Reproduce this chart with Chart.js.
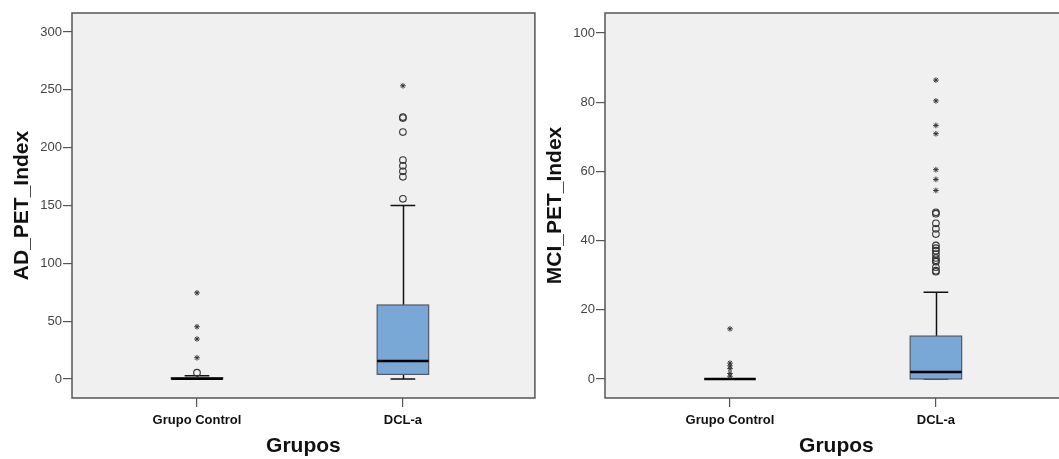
<!DOCTYPE html>
<html>
<head>
<meta charset="utf-8">
<script src="https://cdn.jsdelivr.net/npm/chart.js@4.4.1/dist/chart.umd.min.js"></script>
<style>
    html, body { margin: 0; padding: 0; background: #fff; overflow: hidden; width: 1059px; height: 459px; position: relative; }
    .panel { position: absolute; top: 0; width: 540px; height: 459px; }
</style>
</head>
<body>
<div class="panel" style="left:0"><canvas id="ad" width="540" height="459"></canvas></div>
<div class="panel" style="left:533px"><canvas id="mci" width="540" height="459"></canvas></div>
<script>
// Groups on the x axis (positions 1 and 2)
var groups = ["Grupo Control", "DCL-a"];

// AD_PET_Index summary per group
var adLow = [0, 0];
var adQ1 = [0, 4];
var adMedian = [0.3, 15.6];
var adQ3 = [1.2, 64];
var adHigh = [2.8, 150];
var adCircles = [[5.5], [155.8, 174.8, 179.5, 184.3, 189.3, 213.5, 225.6, 226.4]];
var adStars = [[18.4, 34.6, 45.2, 74.5], [253.5]];
var adTicks = [0, 50, 100, 150, 200, 250, 300];

// MCI_PET_Index summary per group
var mciLow = [0, 0];
var mciQ1 = [0, 0];
var mciMedian = [0, 2];
var mciQ3 = [0, 12.4];
var mciHigh = [0, 25.1];
var mciCircles = [[], [31.0, 31.3, 32.3, 33.9, 34.3, 35.0, 36.1, 37.1, 37.8, 38.6, 41.9, 43.4, 45.0, 47.8, 48.2]];
var mciStars = [[0.8, 1.6, 3.0, 3.8, 4.6, 14.5], [54.5, 57.7, 60.5, 70.9, 73.3, 80.4, 86.4]];
var mciTicks = [0, 20, 40, 60, 80, 100];

var FONT = "'Liberation Sans', Arial, sans-serif";

function toPoints(lists) {
    var pts = [];
    lists.forEach(function (vals, i) {
        vals.forEach(function (v) { pts.push({ x: i + 1, y: v }); });
    });
    return pts;
}

// Draws the grey plot background, the boxes/whiskers and the plot frame
var boxPlugin = {
    id: "boxes",
    beforeDraw: function (chart) {
        var a = chart.chartArea, ctx = chart.ctx;
        ctx.save();
        ctx.fillStyle = "#f0f0f0";
        ctx.fillRect(a.left, a.top, a.right - a.left, a.bottom - a.top);
        ctx.restore();
    },
    beforeDatasetsDraw: function (chart, args, opts) {
        var x = chart.scales.x, y = chart.scales.y, ctx = chart.ctx;
        ctx.save();
        opts.q1.forEach(function (q1, i) {
            var c = Math.round(x.getPixelForValue(i + 1)) + 0.5;
            var l = x.getPixelForValue(i + 1 - 0.125), r = x.getPixelForValue(i + 1 + 0.125);
            var cl = x.getPixelForValue(i + 1 - 0.06), cr = x.getPixelForValue(i + 1 + 0.06);
            var yLo = y.getPixelForValue(opts.low[i]), yHi = y.getPixelForValue(opts.high[i]);
            var yQ1 = y.getPixelForValue(q1), yQ3 = y.getPixelForValue(opts.q3[i]);
            var yMed = y.getPixelForValue(opts.median[i]);

            ctx.strokeStyle = "#111";
            ctx.lineWidth = 1.5;
            ctx.beginPath();
            ctx.moveTo(c, yQ3); ctx.lineTo(c, yHi);
            ctx.moveTo(cl, yHi); ctx.lineTo(cr, yHi);
            ctx.moveTo(c, yQ1); ctx.lineTo(c, yLo);
            ctx.moveTo(cl, yLo); ctx.lineTo(cr, yLo);
            ctx.stroke();

            ctx.fillStyle = "#79a8d6";
            ctx.fillRect(l, yQ3, r - l, yQ1 - yQ3);
            ctx.strokeStyle = "#505a64";
            ctx.lineWidth = 1.2;
            ctx.strokeRect(l, yQ3, r - l, yQ1 - yQ3);

            ctx.strokeStyle = "#000";
            ctx.lineWidth = 2.5;
            ctx.beginPath();
            ctx.moveTo(l, yMed); ctx.lineTo(r, yMed);
            ctx.stroke();
        });
        ctx.restore();
    },
    afterDraw: function (chart) {
        var a = chart.chartArea, ctx = chart.ctx;
        ctx.save();
        ctx.strokeStyle = "#555";
        ctx.lineWidth = 1.5;
        ctx.strokeRect(a.left, a.top, a.right - a.left, a.bottom - a.top);
        ctx.restore();
    }
};

function makeBoxChart(id, title, low, q1, median, q3, high, circles, stars, ticks, yMin, yMax) {
    return new Chart(document.getElementById(id), {
        type: "scatter",
        data: {
            datasets: [
                {
                    data: toPoints(circles),
                    pointStyle: "circle",
                    pointRadius: 3.3,
                    borderColor: "#333",
                    borderWidth: 1.1,
                    backgroundColor: "rgba(0,0,0,0)"
                },
                {
                    data: toPoints(stars),
                    pointStyle: "star",
                    pointRadius: 2.8,
                    borderColor: "#333",
                    borderWidth: 1,
                    backgroundColor: "#333"
                }
            ]
        },
        options: {
            responsive: false,
            animation: false,
            events: [],
            layout: { padding: { top: 13, right: 2, left: 0, bottom: 0 } },
            plugins: {
                legend: { display: false },
                tooltip: { enabled: false },
                boxes: { low: low, q1: q1, median: median, q3: q3, high: high }
            },
            scales: {
                x: {
                    type: "linear",
                    min: 0.393,
                    max: 2.641,
                    afterFit: function (s) { s.height = 61; },
                    afterBuildTicks: function (s) { s.ticks = groups.map(function (g, i) { return { value: i + 1 }; }); },
                    border: { display: false },
                    grid: { drawOnChartArea: false, drawTicks: true, tickLength: 9, color: "#555", lineWidth: 1.2 },
                    ticks: {
                        padding: 6,
                        color: "#111",
                        font: { family: FONT, size: 13, weight: "bold" },
                        callback: function (v) { return groups[v - 1]; }
                    },
                    title: {
                        display: true,
                        text: "Grupos",
                        color: "#111",
                        padding: { top: -2, bottom: 0 },
                        font: { family: FONT, size: 21, weight: "bold" }
                    }
                },
                y: {
                    min: yMin,
                    max: yMax,
                    afterFit: function (s) { s.width = 72; },
                    afterBuildTicks: function (s) { s.ticks = ticks.map(function (v) { return { value: v }; }); },
                    border: { display: false },
                    grid: { drawOnChartArea: false, drawTicks: true, tickLength: 9, color: "#555", lineWidth: 1.2 },
                    ticks: {
                        padding: 1,
                        color: "#444",
                        font: { family: FONT, size: 13 }
                    },
                    title: {
                        display: true,
                        text: title,
                        color: "#111",
                        padding: { top: 10, bottom: 0 },
                        font: { family: FONT, size: 21, weight: "bold" }
                    }
                }
            }
        },
        plugins: [boxPlugin]
    });
}

makeBoxChart("ad", "AD_PET_Index", adLow, adQ1, adMedian, adQ3, adHigh, adCircles, adStars, adTicks, -16.4, 316.4);
makeBoxChart("mci", "MCI_PET_Index", mciLow, mciQ1, mciMedian, mciQ3, mciHigh, mciCircles, mciStars, mciTicks, -5.5, 105.8);
</script>
</body>
</html>
